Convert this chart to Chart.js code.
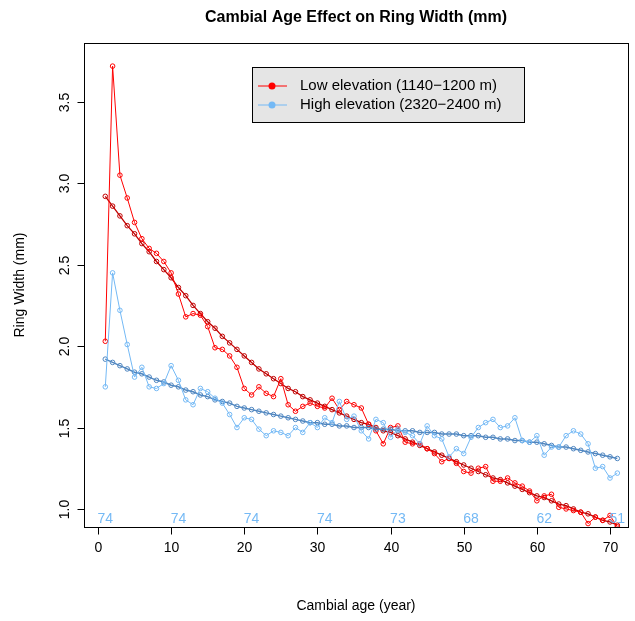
<!DOCTYPE html>
<html>
<head>
<meta charset="utf-8">
<script src="https://cdn.jsdelivr.net/npm/chart.js@4/dist/chart.umd.min.js"></script>
<style>
  html, body { margin: 0; padding: 0; background: #fff; }
  #wrap { width: 635px; height: 621px; }
</style>
</head>
<body>
<div id="wrap"><canvas id="c" width="635" height="621"></canvas></div>
<script>
const ages = Array.from({ length: 71 }, (_, i) => i + 1);

const lowRaw = [2.03, 3.72, 3.05, 2.91, 2.76, 2.66, 2.60, 2.57, 2.52, 2.45,
  2.32, 2.18, 2.20, 2.19, 2.12, 1.99, 1.98, 1.94, 1.87, 1.74,
  1.70, 1.75, 1.71, 1.69, 1.80, 1.64, 1.60, 1.63, 1.65, 1.63,
  1.62, 1.68, 1.61, 1.66, 1.64, 1.62, 1.52, 1.48, 1.40, 1.50,
  1.51, 1.41, 1.40, 1.40, 1.37, 1.34, 1.29, 1.31, 1.28, 1.23,
  1.22, 1.25, 1.26, 1.17, 1.17, 1.19, 1.16, 1.14, 1.11, 1.05,
  1.08, 1.09, 1.01, 1.00, 0.99, 0.98, 0.91, 0.95, 0.93, 0.96, 0.89];

const lowFit = [2.92, 2.86, 2.80, 2.74, 2.69, 2.63, 2.58, 2.52, 2.47, 2.42,
  2.36, 2.31, 2.25, 2.20, 2.15, 2.11, 2.06, 2.02, 1.98, 1.94,
  1.90, 1.86, 1.83, 1.80, 1.77, 1.74, 1.72, 1.69, 1.67, 1.65,
  1.63, 1.61, 1.59, 1.57, 1.55, 1.53, 1.52, 1.50, 1.48, 1.47,
  1.45, 1.43, 1.41, 1.39, 1.37, 1.35, 1.33, 1.31, 1.29, 1.27,
  1.25, 1.23, 1.21, 1.19, 1.18, 1.16, 1.14, 1.12, 1.10, 1.08,
  1.07, 1.05, 1.03, 1.02, 1.00, 0.98, 0.97, 0.95, 0.93, 0.92, 0.90];

const highRaw = [1.75, 2.45, 2.22, 2.01, 1.81, 1.87, 1.75, 1.74, 1.77, 1.88,
  1.79, 1.67, 1.64, 1.74, 1.72, 1.68, 1.65, 1.58, 1.50, 1.56,
  1.55, 1.49, 1.45, 1.48, 1.47, 1.45, 1.50, 1.47, 1.53, 1.50,
  1.56, 1.53, 1.66, 1.55, 1.57, 1.48, 1.43, 1.55, 1.53, 1.44,
  1.49, 1.47, 1.45, 1.40, 1.51, 1.45, 1.43, 1.32, 1.37, 1.34,
  1.44, 1.50, 1.53, 1.55, 1.50, 1.51, 1.56, 1.42, 1.41, 1.45,
  1.33, 1.38, 1.38, 1.45, 1.48, 1.46, 1.40, 1.25, 1.26, 1.19, 1.22];

const highFit = [1.92, 1.90, 1.88, 1.86, 1.84, 1.83, 1.81, 1.79, 1.78, 1.76,
  1.75, 1.73, 1.72, 1.70, 1.69, 1.67, 1.66, 1.65, 1.63, 1.62,
  1.61, 1.60, 1.59, 1.58, 1.57, 1.56, 1.55, 1.54, 1.53, 1.53,
  1.52, 1.52, 1.51, 1.51, 1.50, 1.50, 1.50, 1.49, 1.49, 1.49,
  1.48, 1.48, 1.48, 1.47, 1.47, 1.47, 1.46, 1.46, 1.46, 1.45,
  1.45, 1.45, 1.44, 1.44, 1.43, 1.43, 1.42, 1.42, 1.41, 1.41,
  1.40, 1.39, 1.38, 1.38, 1.37, 1.36, 1.35, 1.34, 1.33, 1.32, 1.31];

const countAges = [1, 11, 21, 31, 41, 51, 61, 71];
const countLabels = ["74", "74", "74", "74", "73", "68", "62", "51"];
const xTicks = [0, 10, 20, 30, 40, 50, 60, 70];
const yTicks = [1.0, 1.5, 2.0, 2.5, 3.0, 3.5];

const FONT = "'Liberation Sans', Arial, sans-serif";

function series(vals, color, width) {
  return {
    data: vals.map((v, i) => ({ x: ages[i], y: v })),
    borderColor: color,
    borderWidth: width,
    pointRadius: 2.3,
    pointBorderWidth: 1,
    pointBackgroundColor: "rgba(0,0,0,0)",
    pointBorderColor: color,
    tension: 0
  };
}

// R-style frame, axes, labels, counts and legend
const rStyle = {
  id: "rStyle",
  afterDatasetsDraw(chart) {
    const { ctx, chartArea: a, scales: { x, y } } = chart;
    ctx.save();
    ctx.strokeStyle = "#000";
    ctx.lineWidth = 1;
    ctx.strokeRect(a.left + 0.5, a.top + 0.5, a.right - a.left, a.bottom - a.top);

    ctx.fillStyle = "#000";
    ctx.font = "14px " + FONT;
    // x axis
    const xb = a.bottom + 0.5;
    ctx.textAlign = "center";
    ctx.textBaseline = "top";
    xTicks.forEach(t => {
      const px = Math.round(x.getPixelForValue(t)) + 0.5;
      ctx.beginPath(); ctx.moveTo(px, xb); ctx.lineTo(px, xb + 7); ctx.stroke();
      ctx.fillText(String(t), px, xb + 14);
    });
    // y axis
    const yl = a.left + 0.5;
    ctx.textBaseline = "bottom";
    yTicks.forEach(t => {
      const py = Math.round(y.getPixelForValue(t)) + 0.5;
      ctx.beginPath(); ctx.moveTo(yl, py); ctx.lineTo(yl - 7, py); ctx.stroke();
      ctx.save();
      ctx.translate(yl - 12, py);
      ctx.rotate(-Math.PI / 2);
      ctx.fillText(t.toFixed(1), 0, 0);
      ctx.restore();
    });

    // axis titles
    ctx.font = "14px " + FONT;
    ctx.textBaseline = "middle";
    ctx.fillText("Cambial age (year)", (a.left + a.right) / 2, 606);
    ctx.save();
    ctx.translate(20, (a.top + a.bottom) / 2);
    ctx.rotate(-Math.PI / 2);
    ctx.fillText("Ring Width (mm)", 0, 0);
    ctx.restore();
    ctx.font = "bold 16px " + FONT;
    ctx.fillText("Cambial Age Effect on Ring Width (mm)", (a.left + a.right) / 2, 18);

    // sample counts
    ctx.font = "14px " + FONT;
    ctx.fillStyle = "#74b9f5";
    countAges.forEach((ag, i) => {
      ctx.fillText(countLabels[i], x.getPixelForValue(ag), y.getPixelForValue(0.935));
    });

    // legend
    const lx = 252, ly = 67, lw = 272, lh = 55;
    ctx.fillStyle = "#e5e5e5";
    ctx.fillRect(lx, ly, lw, lh);
    ctx.strokeStyle = "#000";
    ctx.strokeRect(lx + 0.5, ly + 0.5, lw, lh);
    const items = [["Low elevation (1140\u22121200 m)", "#ff0000", 86],
                   ["High elevation (2320\u22122400 m)", "#74b9f5", 105]];
    ctx.font = "15px " + FONT;
    ctx.textAlign = "left";
    items.forEach(([txt, col, yy]) => {
      ctx.strokeStyle = col;
      ctx.fillStyle = col;
      ctx.beginPath(); ctx.moveTo(258, yy); ctx.lineTo(287, yy); ctx.stroke();
      ctx.beginPath(); ctx.arc(272, yy, 3.5, 0, Math.PI * 2); ctx.fill();
      ctx.fillStyle = "#000";
      ctx.fillText(txt, 300, yy);
    });
    ctx.restore();
  }
};

new Chart(document.getElementById("c"), {
  type: "line",
  data: {
    datasets: [
      series(highRaw, "#74b9f5", 1),
      series(highFit, "#4f86c0", 1.5),
      series(lowRaw, "#ff0000", 1),
      series(lowFit, "#c00000", 1.3)
    ]
  },
  options: {
    responsive: false,
    animation: false,
    layout: { padding: { left: 76, right: 7, top: 43, bottom: 86 } },
    plugins: { legend: { display: false }, tooltip: { enabled: false } },
    scales: {
      x: { type: "linear", min: -1.91, max: 72.46,
           ticks: { display: false }, grid: { display: false }, border: { display: false } },
      y: { type: "linear", min: 0.889, max: 3.862,
           ticks: { display: false }, grid: { display: false }, border: { display: false } }
    }
  },
  plugins: [rStyle]
});
</script>
</body>
</html>
